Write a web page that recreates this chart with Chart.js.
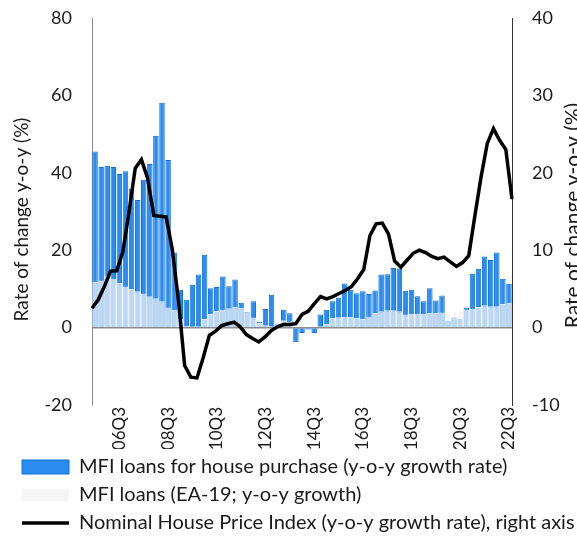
<!DOCTYPE html>
<html>
<head>
<meta charset="utf-8">
<script src="https://cdn.jsdelivr.net/npm/chart.js@4"></script>
<style>
	html, body { margin: 0; padding: 0; background: #fff; }
	#wrap { width: 577px; height: 540px; }
</style>
</head>
<body>
<div id="wrap"><canvas id="chart" width="577" height="540"></canvas></div>
<script>
// Quarters 05Q3 - 22Q3
var quarters = [
	'05Q3','05Q4',
	'06Q1','06Q2','06Q3','06Q4', '07Q1','07Q2','07Q3','07Q4',
	'08Q1','08Q2','08Q3','08Q4', '09Q1','09Q2','09Q3','09Q4',
	'10Q1','10Q2','10Q3','10Q4', '11Q1','11Q2','11Q3','11Q4',
	'12Q1','12Q2','12Q3','12Q4', '13Q1','13Q2','13Q3','13Q4',
	'14Q1','14Q2','14Q3','14Q4', '15Q1','15Q2','15Q3','15Q4',
	'16Q1','16Q2','16Q3','16Q4', '17Q1','17Q2','17Q3','17Q4',
	'18Q1','18Q2','18Q3','18Q4', '19Q1','19Q2','19Q3','19Q4',
	'20Q1','20Q2','20Q3','20Q4', '21Q1','21Q2','21Q3','21Q4',
	'22Q1','22Q2','22Q3'
];

// MFI loans for house purchase, y-o-y %, left axis
var mfiHousePurchase = [
	45.5, 41.5,
	41.8, 41.5, 39.7, 40.4,  35.9, 33.0, 38.2, 42.3,
	49.6, 58.1, 43.3, 19.4,  9.8, 7.2, 11.1, 13.7,
	18.8, 10.2, 10.5, 13.2,  10.7, 12.4, 6.4, 4.0,
	6.8, 1.5, 4.8, 8.5,  1.0, 4.6, 3.7, -3.8,
	-1.4, -0.5, -1.4, 3.4,  4.6, 6.8, 7.7, 11.4,
	9.8, 8.9, 9.4, 8.7,  9.6, 13.7, 13.8, 15.4,
	15.3, 9.5, 9.8, 8.1,  6.8, 10.2, 7.0, 8.3,
	1.8, 2.7, 2.3, 5.2,  13.9, 15.2, 18.4, 17.5,
	19.4, 12.6, 11.3
];

// MFI loans (EA-19), y-o-y %, left axis
var mfiLoansEA = [
	11.8, 12.2,
	13.4, 12.6, 11.6, 10.6,  10.0, 9.4, 8.8, 8.1,
	7.6, 6.8, 5.2, 4.6,  2.2, 0.5, 0.2, 0.3,
	2.2, 3.5, 4.3, 4.6,  5.0, 5.4, 5.1, 4.6,
	2.6, 1.2, 0.6, 0.3,  1.6, 1.9, 1.6, 0.3,
	0.2, 0.3, 0.3, 0.3,  0.9, 2.5, 2.7, 2.8,
	2.8, 2.5, 2.2, 2.8,  3.8, 4.2, 4.5, 4.5,
	4.2, 3.4, 3.6, 3.6,  3.6, 3.8, 3.8, 3.9,
	4.2, 4.3, 4.5, 4.7,  4.9, 5.3, 5.8, 5.5,
	5.5, 6.1, 6.4
];

// Nominal house price index, y-o-y %, right axis
var housePriceIndex = [
	2.5, 3.6,
	5.3, 7.3, 7.35, 9.8,  15.0, 20.6, 21.7, 19.3,
	14.5, 14.4, 14.3, 10.1,  3.5, -4.9, -6.4, -6.5,
	-3.9, -1.0, -0.45, 0.25,  0.5, 0.7, 0.1, -0.9,
	-1.4, -1.85, -1.2, -0.4,  0.1, 0.4, 0.4, 0.5,
	1.7, 2.1, 3.1, 4.0,  3.7, 4.0, 4.4, 4.8,
	5.3, 6.3, 7.5, 11.9,  13.4, 13.5, 12.1, 8.6,
	7.8, 8.7, 9.6, 10.0,  9.7, 9.2, 8.9, 9.1,
	8.5, 7.9, 8.4, 9.3,  14.5, 19.5, 23.8, 25.7,
	24.2, 23.0, 16.6
];

var leftTicks  = [-20, 0, 20, 40, 60, 80];
var rightTicks = [-10, 0, 10, 20, 30, 40];
var axisTitle  = 'Rate of change y-o-y (%)';

var FONT = 'Lato';
var TEXT = '#1a1a1a';

// axis titles, both read bottom to top
var axisTitles = {
	id: 'axisTitles',
	afterDraw: function( chart ) {
		var ctx = chart.ctx, area = chart.chartArea;
		var mid = ( area.top + area.bottom ) / 2;
		ctx.save();
		ctx.fillStyle = TEXT;
		ctx.textAlign = 'center';
		ctx.textBaseline = 'alphabetic';

		ctx.font = '19px ' + FONT;
		ctx.translate( 28, mid + 8 );
		ctx.rotate( -Math.PI / 2 );
		ctx.fillText( axisTitle, 0, 0 );
		ctx.setTransform( 1, 0, 0, 1, 0, 0 );

		ctx.font = '21px ' + FONT;
		ctx.translate( 580, mid + 4 );
		ctx.rotate( -Math.PI / 2 );
		ctx.fillText( axisTitle, 0, 0 );
		ctx.restore();
	}
};

// keep the value axes to a fixed width and stop the tick padding from pushing the plot down
function fixValueAxis( width ) {
	return function( s ) {
		s.width = width;
		s.paddingTop = 11;
		s.paddingBottom = 11;
	};
}

var config = {
	type: 'bar',
	data: {
		labels: quarters,
		datasets: [
			{
				label: 'MFI loans for house purchase (y-o-y growth rate)',
				data: mfiHousePurchase,
				backgroundColor: '#2b8cf0',
				borderColor: '#0f6fd8',
				borderWidth: 1,
				pointStyle: 'rect',
				barPercentage: 0.9,
				categoryPercentage: 1.0,
				grouped: false,
				order: 3
			},
			{
				label: 'MFI loans (EA-19; y-o-y growth)',
				data: mfiLoansEA,
				backgroundColor: 'rgba(242,242,242,0.75)',
				borderColor: 'rgba(255,255,255,0.85)',
				borderWidth: 1,
				pointStyle: 'rect',
				barPercentage: 0.9,
				categoryPercentage: 1.0,
				grouped: false,
				order: 2
			},
			{
				type: 'line',
				label: 'Nominal House Price Index (y-o-y growth rate), right axis',
				data: housePriceIndex,
				xAxisID: 'x2',
				yAxisID: 'y2',
				borderColor: '#000',
				backgroundColor: '#000',
				borderWidth: 3.5,
				pointRadius: 0,
				pointStyle: 'line',
				tension: 0,
				order: 1
			}
		]
	},
	options: {
		responsive: false,
		animation: false,
		layout: {
			padding: { left: 14, right: 0, top: 18, bottom: 3 }
		},
		plugins: {
			legend: {
				position: 'bottom',
				align: 'start',
				maxHeight: 88,
				labels: {
					boxWidth: 47,
					boxHeight: 14,
					usePointStyle: true,
					pointStyleWidth: 47,
					padding: 8,
					color: TEXT,
					font: { family: FONT, size: 20 },
					sort: function( a, b ) { return a.datasetIndex - b.datasetIndex; }
				}
			},
			tooltip: { enabled: false }
		},
		scales: {
			x: {
				offset: true,
				grid: { display: false, drawTicks: false },
				border: { display: false },
				ticks: {
					autoSkip: false,
					minRotation: 90,
					maxRotation: 90,
					padding: 2,
					color: TEXT,
					font: { family: FONT, size: 17 },
					callback: function( val, idx ) {
						var q = quarters[idx];
						return ( q.slice(2) === 'Q3' && parseInt( q, 10 ) % 2 === 0 ) ? q : '';
					}
				},
				afterFit: function( s ) { s.height = 44; }
			},
			x2: {
				type: 'category',
				offset: false,
				display: false
			},
			y: {
				position: 'left',
				min: leftTicks[0],
				max: leftTicks[leftTicks.length - 1],
				ticks: {
					stepSize: leftTicks[1] - leftTicks[0],
					padding: 20,
					color: TEXT,
					font: { family: FONT, size: 18 }
				},
				grid: {
					drawTicks: false,
					lineWidth: 1.5,
					color: function( c ) { return c.tick && c.tick.value === 0 ? '#8c8c8c' : 'rgba(0,0,0,0)'; }
				},
				border: { display: true, color: '#8c8c8c', width: 1 },
				afterFit: fixValueAxis( 78 )
			},
			y2: {
				position: 'right',
				min: rightTicks[0],
				max: rightTicks[rightTicks.length - 1],
				ticks: {
					stepSize: rightTicks[1] - rightTicks[0],
					padding: 20,
					color: TEXT,
					font: { family: FONT, size: 18 }
				},
				grid: { display: false, drawTicks: false },
				border: { display: true, color: '#333', width: 1 },
				afterFit: fixValueAxis( 65 )
			}
		}
	},
	plugins: [ axisTitles ]
};

new Chart( document.getElementById('chart'), config );
</script>
</body>
</html>
